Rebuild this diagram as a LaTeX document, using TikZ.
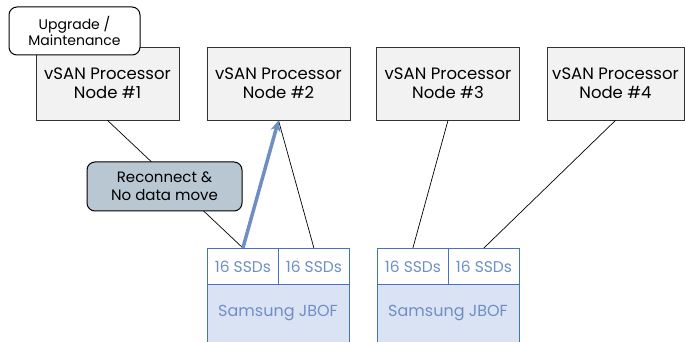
\documentclass[tikz,border=0pt]{standalone}
\usepackage{fontspec}
\setmainfont{Poppins}
\usetikzlibrary{arrows.meta}

\definecolor{procgray}{HTML}{F2F2F2}
\definecolor{jbofblue}{HTML}{4472C4}
\definecolor{jboffill}{HTML}{DAE3F3}
\definecolor{jboftext}{HTML}{6F8FC4}
\definecolor{movefill}{HTML}{B8C7D2}

\begin{document}
\begin{tikzpicture}[x=1pt, y=-1pt,
    proc/.style={draw=black!80, fill=procgray, line width=0.8pt,
      minimum width=143pt, minimum height=73pt, align=center,
      font=\fontsize{16.5}{18.5}\selectfont},
    note/.style={draw=black, line width=1pt, rounded corners=8pt,
      align=center},
    ssd/.style={draw=jbofblue, fill=white, line width=0.8pt,
      minimum width=71pt, minimum height=36pt, text=jboftext,
      font=\fontsize{15.5}{17}\selectfont},
    jbof/.style={draw=jbofblue, fill=jboffill, line width=0.8pt,
      minimum width=142pt, minimum height=70pt},
    link/.style={draw=black, line width=0.7pt}]
  \useasboundingbox (0,0) rectangle (686,342);
  \clip (0,0) rectangle (686,342);

  %% processor nodes
  \node [proc] (n1) at (107.5,83.5) {vSAN Processor\\Node \#1};
  \node [proc] (n2) at (278.5,83.5) {vSAN Processor\\Node \#2};
  \node [proc] (n3) at (448,83.5) {vSAN Processor\\Node \#3};
  \node [proc, minimum width=137pt] (n4) at (615.5,83.5) {vSAN Processor\\Node \#4};

  \node [note, fill=white, minimum width=131pt, minimum height=48pt,
    font=\fontsize{14}{16}\selectfont] (upg) at (74.5,31) {Upgrade /\\Maintenance};

  %% the two JBOFs, body runs off the bottom
  \node [jbof, anchor=north west] (j1) at (207,284) {};
  \node [ssd, anchor=north west] (s1a) at (207,248) {16 SSDs};
  \node [ssd, anchor=north west] (s1b) at (278,248) {16 SSDs};
  \node [text=jboftext, font=\fontsize{16}{18}\selectfont] (l1) at (278,313) {Samsung JBOF};

  \node [jbof, anchor=north west] (j2) at (377,284) {};
  \node [ssd, anchor=north west] (s2a) at (377,248) {16 SSDs};
  \node [ssd, anchor=north west] (s2b) at (448,248) {16 SSDs};
  \node [text=jboftext, font=\fontsize{16}{18}\selectfont] (l2) at (448,313) {Samsung JBOF};

  %% links
  \draw [link] (n1.south) -- (s1a.north);
  \draw [link] (n2.south) -- (s1b.north);
  \draw [link] (n3.south) -- (s2a.north);
  \draw [link] (n4.south) -- (s2b.north);
  \draw [draw=jboftext, line width=3.5pt, -{Stealth[length=11pt, width=10pt]}] (s1a.north) -- (n2.south);

  \node [note, fill=movefill, minimum width=155pt, minimum height=49pt,
    font=\fontsize{15}{18}\selectfont] (move) at (164.5,186.5) {Reconnect \&\\No data move};
\end{tikzpicture}
\end{document}
